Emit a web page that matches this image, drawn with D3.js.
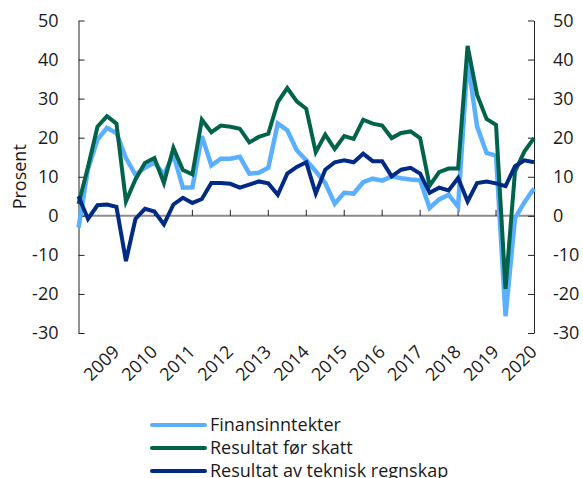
<!DOCTYPE html>
<html>
<head>
<meta charset="utf-8">
<script src="https://cdn.jsdelivr.net/npm/d3@7/dist/d3.min.js"></script>
<style>
  html, body { margin: 0; padding: 0; background: #fff; }
  svg { display: block; font-family: "Open Sans", sans-serif; }
</style>
</head>
<body>
<svg id="chart" width="583" height="478"></svg>
<script>
// Quarterly series, 2008K1 – 2020K1 (per cent)
const years = ["2008","2009","2010","2011","2012","2013","2014","2015","2016","2017","2018","2019","2020"];
const quarters = years.flatMap(y => ["K1","K2","K3","K4"].map(q => y + q)).slice(0, 49);
const yearLabels = ["2009","2010","2011","2012","2013","2014","2015","2016","2017","2018","2019","2020"];
const yTicks = [-30, -20, -10, 0, 10, 20, 30, 40, 50];

const finansinntekter = [
  -3, 12, 19.5, 22.5, 21.2, 14.8, 10.5, 12.3, 13.6, 10.6, 15.7, 7.2, 7.3,
  20.4, 12.9, 14.6, 14.6, 15.1, 10.8, 11, 12.3, 23.6, 21.9, 16.8, 14.2,
  11.4, 8.4, 3.1, 5.9, 5.7, 8.6, 9.5, 9.0, 10.1, 9.6, 9.3, 9.1,
  2.0, 4.2, 5.4, 2.3, 40, 22.9, 16.1, 15.4, -25.7, -0.6, 3.5, 7
];
const resultatForSkatt = [
  3, 12.5, 22.8, 25.5, 23.6, 3.7, 9.3, 13.5, 14.8, 8.4, 17.4, 11.7, 10.6,
  24.6, 21.4, 23.1, 22.8, 22.3, 18.8, 20.2, 21.0, 29.1, 32.7, 29.3, 27.4,
  16.3, 20.8, 17.1, 20.4, 19.7, 24.6, 23.6, 23.1, 19.9, 21.2, 21.6, 19.9,
  7.7, 11.2, 12.1, 12.1, 43.5, 31.0, 24.8, 23.3, -18.7, 11.4, 16.5, 19.9
];
const resultatTeknisk = [
  5.0, -0.8, 2.7, 2.9, 2.3, -11.6, -0.8, 1.8, 1.1, -2.2, 2.9, 4.6, 3.3,
  4.3, 8.4, 8.4, 8.2, 7.2, 8.0, 8.8, 8.3, 5.4, 10.8, 12.5, 13.7,
  5.7, 11.8, 13.7, 14.2, 13.7, 15.9, 14.0, 14.0, 10.1, 11.8, 12.3, 10.8,
  5.9, 7.2, 6.5, 9.7, 3.7, 8.4, 8.8, 8.3, 7.6, 12.7, 14.2, 13.7
];

const seriesNames = ["Finansinntekter", "Resultat før skatt", "Resultat av teknisk regnskap"];
const seriesColors = ["#5aafff", "#00634a", "#002a84"];
const seriesValues = [finansinntekter, resultatForSkatt, resultatTeknisk];

const svg = d3.select("#chart");
const plotLeft = 78.5, plotRight = 534, plotTop = 20.5, plotBottom = 333;

const x = d3.scalePoint().domain(quarters).range([plotLeft, plotRight]);
const y = d3.scaleLinear().domain([-30, 50]).range([plotBottom, plotTop]);

const fontSize = 18;

// zero line
svg.append("line")
  .attr("x1", plotLeft).attr("x2", plotRight)
  .attr("y1", y(0)).attr("y2", y(0))
  .attr("stroke", "#8c8c8c").attr("stroke-width", 2);

// year ticks on the zero line
svg.append("g").selectAll("line")
  .data(yearLabels.slice(0, -1))
  .join("line")
  .attr("x1", d => x(d + "K1")).attr("x2", d => x(d + "K1"))
  .attr("y1", y(0)).attr("y2", y(0) - 6)
  .attr("stroke", "#222").attr("stroke-width", 1);

// left and right value axes, ticks pointing into the plot
const fmt = d => String(d);
const gL = svg.append("g")
  .attr("transform", `translate(${plotLeft},0)`)
  .call(d3.axisLeft(y).tickValues(yTicks).tickFormat(fmt).tickSizeInner(-6).tickSizeOuter(0).tickPadding(20));
const gR = svg.append("g")
  .attr("transform", `translate(${plotRight},0)`)
  .call(d3.axisRight(y).tickValues(yTicks).tickFormat(fmt).tickSizeInner(-6).tickSizeOuter(0).tickPadding(19));

[gL, gR].forEach(g => {
  g.select(".domain").attr("stroke", "#222");
  g.selectAll(".tick line").attr("stroke", "#222");
  g.selectAll("text")
    .attr("fill", "#1a1a1a")
    .style("font-family", "'Open Sans', sans-serif")
    .style("font-size", fontSize + "px");
});

// y title, centred on the plot height
svg.append("text")
  .attr("transform", `translate(26,${(plotTop + plotBottom) / 2}) rotate(-90)`)
  .attr("text-anchor", "middle")
  .attr("fill", "#1a1a1a")
  .style("font-size", fontSize + "px")
  .text("Prosent");

// x labels
svg.append("g").selectAll("text")
  .data(yearLabels)
  .join("text")
  .attr("transform", d => `translate(${x(d + "K1") + 4},${353}) rotate(-45)`)
  .attr("text-anchor", "end")
  .attr("fill", "#1a1a1a")
  .style("font-size", fontSize + "px")
  .text(d => d);

// lines
const line = d3.line()
  .x((d, i) => x(quarters[i]))
  .y(d => y(d));

seriesValues.forEach((vals, i) => {
  svg.append("path")
    .datum(vals)
    .attr("fill", "none")
    .attr("stroke", seriesColors[i])
    .attr("stroke-width", i === 0 ? 4.5 : 4)
    .attr("stroke-linejoin", "miter")
    .attr("d", line);
});

// legend
const legend = svg.append("g");
seriesNames.forEach((name, i) => {
  const ly = 425 + i * 23;
  legend.append("line")
    .attr("x1", 152).attr("x2", 205)
    .attr("y1", ly).attr("y2", ly)
    .attr("stroke", seriesColors[i])
    .attr("stroke-width", 4)
    .attr("stroke-linecap", "round");
  legend.append("text")
    .attr("x", 210).attr("y", ly)
    .attr("dy", "0.35em")
    .attr("fill", "#1a1a1a")
    .style("font-size", fontSize + "px")
    .text(name);
});
</script>
</body>
</html>
